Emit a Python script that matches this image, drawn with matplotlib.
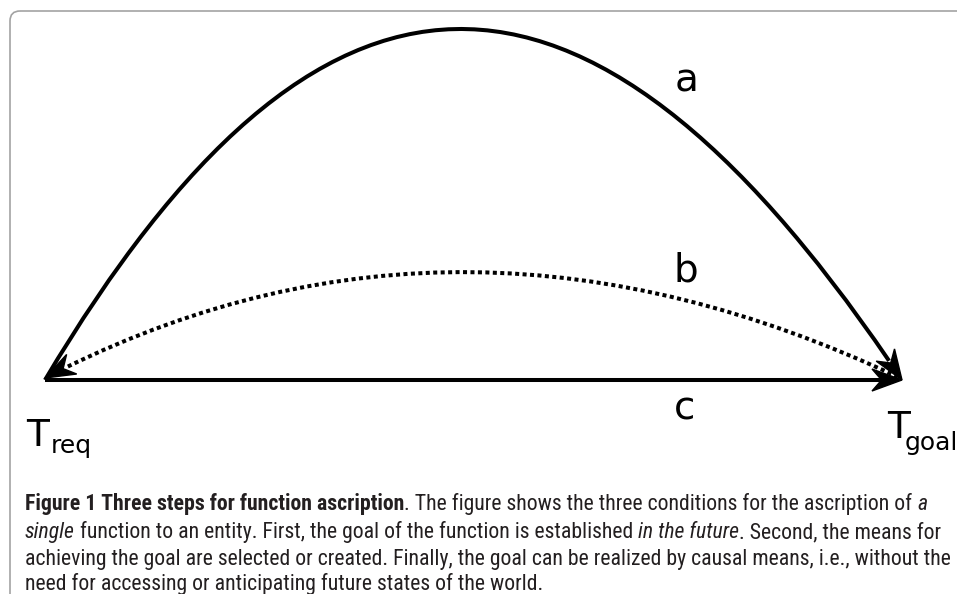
import matplotlib
matplotlib.use("Agg")
import numpy as np
import matplotlib.pyplot as plt
from matplotlib.path import Path
from matplotlib.patches import PathPatch, Polygon, FancyBboxPatch
from matplotlib import font_manager

# diagram geometry (pixel coordinates, y downwards)
t_req = (45, 380)
t_goal = (902, 380)
arc_a = [(45, 380), (323, -88), (590, -88), (902, 380)]   # cubic bezier, arrow at goal
arc_b = [(898, 377), (600, 237), (318, 237), (45, 378)]   # dotted, arrow back at req
line_c = [t_req, t_goal]

labels = [("a", 687, 92), ("b", 686, 282), ("c", 685, 420)]

caption = [
    [("Figure 1 Three steps for function ascription", "bold", "normal"),
     (". The figure shows the three conditions for the ascription of ", "normal", "normal"),
     ("a", "normal", "italic")],
    [("single", "normal", "italic"),
     (" function to an entity. First, the goal of the function is established ", "normal", "normal"),
     ("in the future", "normal", "italic"),
     (". Second, the means for", "normal", "normal")],
    [("achieving the goal are selected or created. Finally, the goal can be realized by causal means, i.e., without the",
      "normal", "normal")],
    [("need for accessing or anticipating future states of the world.", "normal", "normal")],
]
caption_y = [510, 538, 565, 590]

fig = plt.figure(figsize=(9.57, 5.94), dpi=100)
ax = fig.add_axes([0, 0, 1, 1])
ax.set_xlim(0, 957)
ax.set_ylim(594, 0)
ax.axis("off")

LW = 2.9


def arrowhead(tip, prev, length=30, half=11, notch=0.68):
    tip = np.asarray(tip, float)
    d = tip - np.asarray(prev, float)
    d = d / np.hypot(*d)
    n = np.array([-d[1], d[0]])
    back = tip - d * length
    mid = tip - d * length * notch
    ax.add_patch(Polygon([tip, back + n * half, mid, back - n * half], closed=True,
                         fc="black", ec="black", lw=1, joinstyle="miter", zorder=4))
    return mid, d


def bezier(pts, arrow=True, **kw):
    p0, p1, p2, p3 = [np.asarray(p, float) for p in pts]
    if arrow:
        mid, d = arrowhead(p3, p2)
        cut = np.hypot(*(p3 - mid)) + 3
        t = 1 - cut / (3 * np.hypot(*(p3 - p2)))
        # de Casteljau: keep the part [0, t]
        a = p0 + (p1 - p0) * t
        b = p1 + (p2 - p1) * t
        c = p2 + (p3 - p2) * t
        e = a + (b - a) * t
        f = b + (c - b) * t
        g = e + (f - e) * t
        p1, p2, p3 = a, e, g
    path = Path([p0, p1, p2, p3], [Path.MOVETO, Path.CURVE4, Path.CURVE4, Path.CURVE4])
    ax.add_patch(PathPatch(path, fc="none", ec="black", lw=LW, capstyle="butt", zorder=3, **kw))


bezier(arc_a)
bezier(arc_b, ls=(0, (1, 0.85)))

# straight line c
mid, d = arrowhead(line_c[1], line_c[0])
ax.plot([line_c[0][0], mid[0] + 3], [line_c[0][1], mid[1]], color="black", lw=LW,
        solid_capstyle="butt", zorder=3)

for s, x, y in labels:
    ax.text(x, y, s, fontsize=28, ha="center", va="baseline", family="DejaVu Sans")

ax.text(26, 446, "T", fontsize=27, va="baseline", family="DejaVu Sans")
ax.text(51, 453, "req", fontsize=18, va="baseline", family="DejaVu Sans")
ax.text(887, 438, "T", fontsize=27, va="baseline", family="DejaVu Sans")
ax.text(905, 450, "goal", fontsize=18, va="baseline", family="DejaVu Sans")

# frame with rounded corner
ax.add_patch(FancyBboxPatch((10, 11), 1000, 700, boxstyle="round,pad=0,rounding_size=10",
                            fc="none", ec="#a3a3a3", lw=1.2, zorder=1))

# caption font: narrowest available
fonts = font_manager.fontManager.ttflist
names = {f.name for f in fonts}
cap_font, cap_stretch = "Lato", "normal"
for cand in ["Liberation Sans Narrow", "Roboto Condensed", "Open Sans Condensed"]:
    if cand in names:
        cap_font = cand
        break
else:
    if any(f.name == "DejaVu Sans" and f.stretch == "condensed" for f in fonts):
        cap_font, cap_stretch = "DejaVu Sans", "condensed"
    elif "Lato" not in names:
        cap_font = "Roboto"
r = fig.canvas.get_renderer()


def run_width(txt, size, weight, style):
    t = ax.text(0, 0, txt + "|", fontsize=size, family=cap_font, weight=weight, style=style,
                stretch=cap_stretch)
    w1 = t.get_window_extent(r).width
    t.set_text("|")
    w2 = t.get_window_extent(r).width
    t.remove()
    return w1 - w2


x0, x1 = 25, 946
widest = max(sum(run_width(s, 10, w, st) for s, w, st in runs) for runs in caption)
cap_size = min(16, 10 * (x1 - x0) / widest)

for runs, y in zip(caption, caption_y):
    x = x0
    for s, w, st in runs:
        ax.text(x, y, s, fontsize=cap_size, family=cap_font, weight=w, style=st,
                stretch=cap_stretch, color="#231f20", va="baseline", ha="left")
        x += run_width(s, cap_size, w, st)

fig.savefig("out.png", dpi=100)
